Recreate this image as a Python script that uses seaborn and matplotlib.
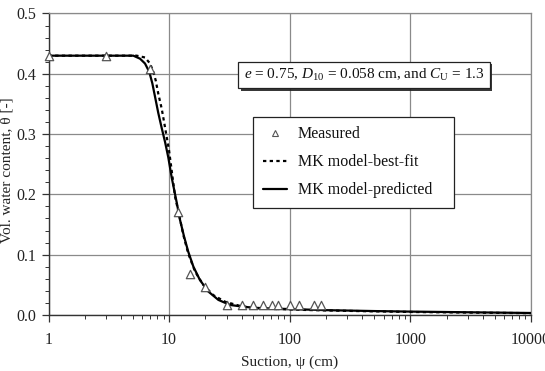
import matplotlib
matplotlib.use("Agg")
import matplotlib.pyplot as plt
import matplotlib.patheffects as pe
from matplotlib.lines import Line2D
from matplotlib.ticker import LogLocator, MultipleLocator, FixedLocator, FixedFormatter, NullFormatter
import seaborn as sns
import pandas as pd

# Measured data
psi_meas = [1, 3, 7, 11.9, 14.9, 19.9, 30, 40, 50, 60, 71, 80, 100, 120, 160, 180]
theta_meas = [0.430, 0.430, 0.408, 0.170, 0.068, 0.046, 0.017, 0.016, 0.016, 0.016,
              0.016, 0.016, 0.016, 0.016, 0.016, 0.016]

# MK model-predicted (solid)
psi_pred = [1, 3, 5.05, 5.74, 6.31, 6.85, 7.26, 7.64, 8.13, 8.68, 9.25, 9.85, 10.5,
            11.6, 12.3, 13.3, 14.4, 15.9, 18.0, 21.1, 25.6, 32, 41, 50, 70, 100,
            200, 500, 1000, 3000, 10000]
theta_pred = [0.430, 0.430, 0.430, 0.425, 0.417, 0.403, 0.384, 0.362, 0.335, 0.310,
              0.287, 0.261, 0.228, 0.185, 0.158, 0.130, 0.105, 0.080, 0.058, 0.039,
              0.025, 0.0166, 0.0138, 0.012, 0.0108, 0.0098, 0.008, 0.0065, 0.0056,
              0.0045, 0.0033]

# MK model-best-fit (dotted)
psi_fit = [1, 3, 5.39, 6.31, 6.95, 7.4, 7.74, 8.13, 8.68, 9.14, 9.55, 9.98, 10.4,
           11.2, 12.2, 13.1, 14.4, 16.4, 19.2, 23.2, 29.1, 38.7, 50, 100, 200, 500,
           1000, 3000, 10000]
theta_fit = [0.430, 0.430, 0.430, 0.427, 0.417, 0.403, 0.389, 0.367, 0.342, 0.317,
             0.295, 0.273, 0.246, 0.196, 0.163, 0.133, 0.102, 0.072, 0.050, 0.033,
             0.022, 0.015, 0.0115, 0.009, 0.0075, 0.006, 0.005, 0.004, 0.003]

x_ticks = [1, 10, 100, 1000, 10000]
x_tick_labels = ["1", "10", "100", "1000", "10000"]

sns.set_theme(style="ticks")
plt.rcParams["font.family"] = ["Liberation Serif", "DejaVu Serif"]
plt.rcParams["mathtext.fontset"] = "custom"
plt.rcParams["mathtext.rm"] = "Liberation Serif"
plt.rcParams["mathtext.it"] = "Liberation Serif:italic"

FS = 11

fig = plt.figure(figsize=(5.45, 3.71), dpi=100)
ax = fig.add_axes([0.089, 0.151, 0.8853, 0.8127])

df_pred = pd.DataFrame({"psi": psi_pred, "theta": theta_pred})
df_fit = pd.DataFrame({"psi": psi_fit, "theta": theta_fit})
df_meas = pd.DataFrame({"psi": psi_meas, "theta": theta_meas})

DOT = (0, (1.5, 1.5))
sns.lineplot(data=df_fit, x="psi", y="theta", ax=ax, color="black", lw=1.6,
             linestyle=DOT, zorder=3)
sns.lineplot(data=df_pred, x="psi", y="theta", ax=ax, color="black", lw=1.6, zorder=4)
ax.scatter(df_meas["psi"], df_meas["theta"], marker="^", s=36, facecolors="white",
           edgecolors="#555555", linewidths=0.9, zorder=5, clip_on=False)

ax.set_xscale("log")
ax.set_xlim(1, 10000)
ax.set_ylim(0, 0.5)
ax.xaxis.set_major_locator(FixedLocator(x_ticks))
ax.xaxis.set_major_formatter(FixedFormatter(x_tick_labels))
ax.xaxis.set_minor_locator(LogLocator(base=10, subs=range(2, 10)))
ax.xaxis.set_minor_formatter(NullFormatter())
ax.yaxis.set_major_locator(MultipleLocator(0.1))
ax.yaxis.set_minor_locator(MultipleLocator(0.02))
ax.yaxis.set_major_formatter(matplotlib.ticker.FormatStrFormatter("%.1f"))

ax.grid(True, which="major", color="#8a8a8a", lw=0.9)
ax.set_axisbelow(True)
for s in ["top", "right"]:
    ax.spines[s].set_color("#8a8a8a")
    ax.spines[s].set_linewidth(0.9)
for s in ["left", "bottom"]:
    ax.spines[s].set_color("#333333")
    ax.spines[s].set_linewidth(1.0)

ax.tick_params(which="major", direction="out", length=5, width=0.9, color="#333333",
               labelsize=FS + 0.5, labelcolor="#222222")
ax.tick_params(axis="y", which="major", pad=4)
ax.tick_params(axis="x", which="major", pad=7)
ax.tick_params(which="minor", direction="out", length=3, width=0.7, color="#333333")

ax.set_xlabel("Suction, ψ (cm)", fontsize=FS, color="#222222")
ax.set_ylabel("Vol. water content, θ [-]", fontsize=FS, color="#222222")
# place axis labels (figure pixel positions)
ax.xaxis.set_label_coords(290.0 / 545, 9.0 / 371, transform=fig.transFigure)
ax.yaxis.set_label_coords(7.0 / 545, (371 - 170.0) / 371, transform=fig.transFigure)
ax.xaxis.label.set_va("center")
ax.yaxis.label.set_va("center")

t = ax.text(0.654, 0.796,
            r"$e$ = 0.75, $D_{\mathrm{10}}$ = 0.058 cm, and $C_{\mathrm{U}}$ = 1.3",
            transform=ax.transAxes, ha="center", va="center", fontsize=FS,
            color="#111111",
            bbox=dict(boxstyle="square,pad=0.35", fc="white", ec="#222222", lw=0.9),
            zorder=6)
t.get_bbox_patch().set_path_effects([
    pe.withSimplePatchShadow(offset=(1.6, -1.6), shadow_rgbFace="#222222", alpha=0.9)
])

handles = [
    Line2D([], [], marker="^", ls="none", markersize=5, markerfacecolor="white",
           markeredgecolor="#555555", markeredgewidth=0.8),
    Line2D([], [], color="black", lw=1.6, linestyle=DOT),
    Line2D([], [], color="black", lw=1.6),
]
labels = ["Measured", "MK model-best-fit", "MK model-predicted"]
leg = ax.legend(handles, labels, loc="upper left",
                bbox_to_anchor=(0.424, 0.658, 0.416, 0.0), mode="expand",
                borderaxespad=0, fontsize=FS + 0.5, frameon=True, fancybox=False,
                edgecolor="#222222", framealpha=1, handlelength=1.5,
                handletextpad=0.7, labelspacing=0.75, borderpad=0.6)
leg.get_frame().set_linewidth(0.9)
leg.set_zorder(7)
for txt in leg.get_texts():
    txt.set_color("#111111")

fig.savefig("out.png", dpi=100)
